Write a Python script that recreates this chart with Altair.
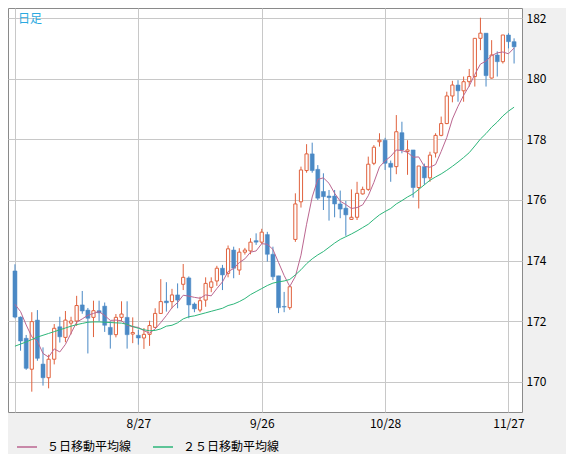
import altair as alt
import pandas as pd

# ---- data (daily candles, index 0 = first candle) ----
opens = [173.66,172.14,171.44,170.42,172.04,170.59,170.14,170.75,171.82,171.47,
         171.94,172.01,172.54,172.37,172.13,172.35,172.50,171.80,171.56,172.13,
         172.13,171.58,171.54,171.45,171.57,171.80,172.26,172.67,172.65,172.87,
         173.22,173.43,172.57,172.37,172.70,173.12,173.33,173.75,173.58,174.35,
         173.69,174.28,174.32,174.66,174.61,174.86,174.21,173.50,172.49,172.45,
         174.70,175.94,176.97,177.52,177.01,176.28,176.13,176.13,175.87,175.73,
         175.36,175.43,176.20,176.35,177.21,177.92,177.97,177.21,177.10,178.22,
         177.60,177.65,176.41,177.10,176.73,177.55,178.13,178.52,179.43,179.79,
         179.60,179.90,180.07,181.33,181.50,180.02,180.78,180.56,181.44,181.22]
highs = [173.88,172.16,171.55,172.30,172.37,171.14,170.90,171.91,172.15,172.34,
         172.15,172.84,173.00,172.44,172.68,172.68,172.62,172.00,172.24,172.66,
         172.66,172.13,171.72,171.78,172.02,172.43,173.39,173.29,173.07,173.25,
         173.89,173.48,172.62,172.81,173.45,173.45,173.83,173.86,174.50,174.46,
         174.41,174.42,174.74,174.90,175.05,174.95,174.46,173.50,172.97,173.14,
         176.22,177.10,177.84,177.89,177.15,176.88,176.33,176.33,176.31,175.97,
         176.35,176.60,176.44,177.43,177.81,178.20,178.05,177.30,178.80,178.58,
         177.97,177.65,177.12,177.20,177.59,178.20,178.75,179.57,179.93,179.95,
         180.07,180.32,181.33,182.01,181.50,181.27,180.90,181.44,181.50,181.33]
lows = [172.10,171.03,170.40,169.68,170.70,169.88,169.79,170.58,171.30,171.31,
        171.57,171.85,172.25,170.94,171.48,172.00,171.65,171.10,171.47,172.00,
        171.10,171.28,171.23,171.09,171.19,171.78,172.24,172.32,172.43,172.43,
        173.03,172.10,172.30,172.30,172.48,172.96,173.17,173.03,173.45,173.42,
        173.53,174.20,174.21,174.52,174.55,173.97,173.36,172.27,172.30,172.38,
        174.62,175.75,176.90,176.90,176.00,175.67,175.32,175.43,175.40,174.82,
        175.34,175.34,176.18,176.30,177.15,177.76,176.99,176.60,176.85,177.54,
        176.83,176.08,175.72,176.50,176.60,177.40,178.10,178.50,179.22,179.24,
        179.24,179.74,179.74,180.94,179.74,180.00,180.07,180.50,181.00,180.50]
closes = [172.14,171.35,170.45,171.99,170.78,170.14,170.75,171.77,171.49,172.04,
          172.01,172.52,172.34,172.10,172.35,172.28,171.87,171.56,172.13,172.24,
          171.56,171.63,171.45,171.57,171.86,172.26,172.65,172.61,172.87,172.70,
          173.45,172.54,172.41,172.68,173.25,173.30,173.75,173.53,174.39,173.75,
          174.28,174.35,174.61,174.61,174.94,174.21,173.47,172.45,172.47,173.14,
          175.87,176.99,177.52,176.97,176.06,176.11,176.08,175.87,175.70,175.51,
          175.43,176.22,176.35,177.18,177.74,177.97,177.21,177.08,178.25,177.65,
          177.65,176.41,177.12,176.73,177.48,178.13,178.52,179.43,179.79,179.60,
          179.90,180.07,181.33,181.50,180.10,180.78,180.56,181.44,181.22,181.05]
ma5 = [172.56,172.32,171.88,171.49,171.34,170.94,170.82,171.09,170.99,171.24,
       171.61,171.97,172.08,172.20,172.26,172.32,172.19,172.03,172.04,172.02,
       171.87,171.82,171.80,171.69,171.61,171.75,171.96,172.19,172.45,172.62,
       172.86,172.83,172.79,172.76,172.87,172.84,173.08,173.30,173.64,173.74,
       173.94,174.06,174.28,174.32,174.56,174.54,174.37,173.94,173.51,173.15,
       173.48,174.18,175.20,176.10,176.68,176.73,176.55,176.22,175.96,175.85,
       175.72,175.75,175.84,176.14,176.58,177.09,177.29,177.44,177.65,177.63,
       177.57,177.41,177.42,177.11,177.08,177.17,177.60,178.06,178.67,179.09,
       179.45,179.76,180.14,180.48,180.58,180.76,180.85,180.88,180.82,181.01]
ma25 = [171.18,171.25,171.32,171.40,171.48,171.54,171.60,171.66,171.72,171.78,
        171.84,171.89,171.93,171.97,171.98,171.98,171.97,171.96,171.95,171.94,
        171.90,171.83,171.77,171.72,171.69,171.70,171.75,171.84,171.87,171.95,
        172.08,172.15,172.18,172.23,172.28,172.33,172.38,172.43,172.52,172.57,
        172.65,172.75,172.88,172.98,173.08,173.18,173.26,173.30,173.33,173.38,
        173.53,173.70,173.90,174.06,174.19,174.30,174.44,174.58,174.70,174.79,
        174.88,174.98,175.09,175.20,175.36,175.51,175.62,175.72,175.87,175.98,
        176.10,176.20,176.35,176.50,176.65,176.76,176.86,176.98,177.11,177.25,
        177.40,177.56,177.78,178.01,178.19,178.40,178.57,178.77,178.93,179.06]

tick_idx = [0, 22, 44, 66, 88]
tick_labels = ["", "8/27", "9/26", "10/28", "11/27"]
y_ticks = [170, 172, 174, 176, 178, 180, 182]
series_names = ["５日移動平均線", "２５日移動平均線"]
series_colors = ["#bb6690", "#2db67a"]
title_text = "日足"

n = len(closes)
assert all(len(a) == n for a in (opens, highs, lows, ma5, ma25))

UP = "#e0623e"
DOWN = "#4a89c5"
FONT = "Noto Sans CJK JP"

candles = pd.DataFrame({"i": list(range(n)), "o": opens, "h": highs,
                        "l": lows, "c": closes})
ma = pd.concat([
    pd.DataFrame({"i": list(range(n)), "v": ma5, "s": series_names[0]}),
    pd.DataFrame({"i": list(range(n)), "v": ma25, "s": series_names[1]}),
])

label_expr = " : ".join(
    f"datum.value == {v} ? '{t}'" for v, t in zip(tick_idx, tick_labels)
) + " : ''"

xs = alt.Scale(domain=[-0.35, 89.52], nice=False, zero=False)
ys = alt.Scale(domain=[169.01, 182.33], nice=False, zero=False)

x_axis = alt.Axis(values=tick_idx, labelExpr=label_expr, grid=True,
                  gridColor="#c8c8c8", gridOpacity=1, ticks=False,
                  domain=False, title=None,
                  labelFont=FONT, labelFontSize=12, labelColor="#000",
                  labelPadding=6, labelFlush=False, labelOverlap=False,
                  labelAngle=0)
y_axis = alt.Axis(orient="right", values=y_ticks, grid=True,
                  gridColor="#c8c8c8", gridOpacity=1, ticks=False,
                  domain=False, title=None,
                  labelFont=FONT, labelFontSize=12, labelColor="#000",
                  labelPadding=4, format="d", labelFlush=False)


def X():
    return alt.X("i:Q", scale=xs, axis=x_axis, title=None)


def Y(field):
    return alt.Y(field, scale=ys, axis=y_axis, title=None)


base = alt.Chart(candles)
up_f = "datum.c >= datum.o"
dn_f = "datum.c < datum.o"

wick_up = base.transform_filter(up_f).mark_rule(color=UP, strokeWidth=1).encode(
    x=X(), y=Y("l:Q"), y2="h:Q")
wick_dn = base.transform_filter(dn_f).mark_rule(color=DOWN, strokeWidth=1).encode(
    x=X(), y=Y("l:Q"), y2="h:Q")
body_up = base.transform_filter(up_f).mark_bar(
    orient="vertical", size=3.2, fill="white", stroke=UP, strokeWidth=1
).encode(x=X(), y=Y("o:Q"), y2="c:Q")
body_dn = base.transform_filter(dn_f).mark_bar(
    orient="vertical", size=4, fill=DOWN, stroke=DOWN, strokeWidth=0.5
).encode(x=X(), y=Y("o:Q"), y2="c:Q")

lines = alt.Chart(ma).mark_line(strokeWidth=1).encode(
    x=X(),
    y=Y("v:Q"),
    color=alt.Color(
        "s:N",
        scale=alt.Scale(domain=series_names, range=series_colors),
        sort=series_names,
        legend=alt.Legend(
            orient="none", legendX=8, legendY=428, direction="horizontal",
            title=None, symbolType="stroke", symbolSize=400,
            symbolStrokeWidth=1.5, labelFont=FONT, labelFontSize=12,
            labelColor="#000", columnPadding=18, labelOffset=9, padding=0,
            labelLimit=200,
        ),
    ),
    detail="s:N",
)

title = alt.Chart(pd.DataFrame({"t": [title_text]})).mark_text(
    align="left", baseline="top", font=FONT, fontSize=12, color="#2aa9e0"
).encode(text="t:N", x=alt.value(10), y=alt.value(6))

chart = alt.layer(wick_up, wick_dn, body_up, body_dn, lines, title).properties(
    width=514, height=404,
    background="#f0f0f0",
    padding={"left": 0, "top": 0, "right": 44, "bottom": 42},
    autosize=alt.AutoSizeParams(type="none"),
).configure_view(fill="white", stroke="#8a8a8a", strokeWidth=1)

chart.save("out.html", embed_options={"renderer": "svg", "actions": False})
